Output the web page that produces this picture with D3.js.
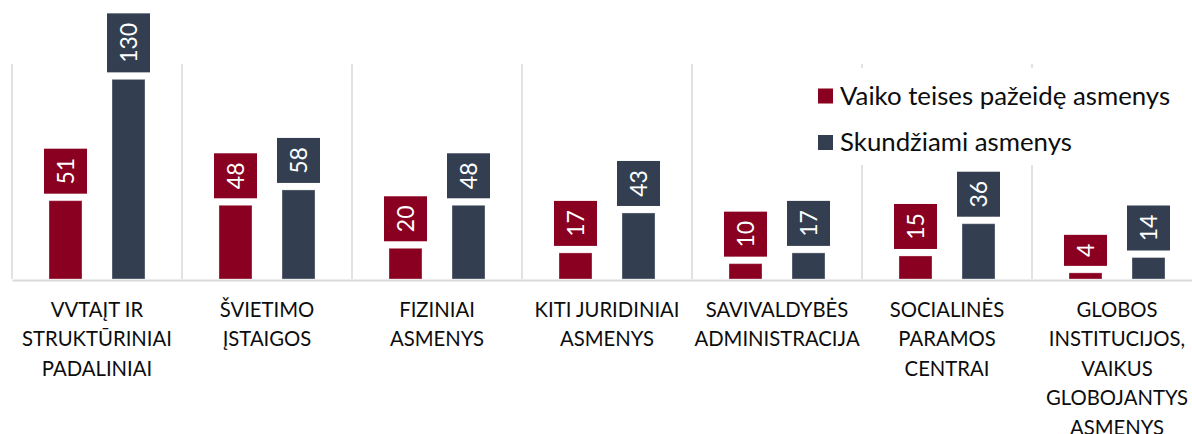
<!DOCTYPE html>
<html>
<head>
<meta charset="utf-8">
<script src="https://cdn.jsdelivr.net/npm/d3@7"></script>
<style>
  html, body { margin: 0; padding: 0; background: #fff; }
  svg { display: block; }
  text { font-family: Lato, "Noto Sans", sans-serif; }
</style>
</head>
<body>
<svg id="chart" width="1192" height="434"></svg>
<script>
// ---- data ----
const categories = [
  "VVTAĮT IR\nSTRUKTŪRINIAI\nPADALINIAI",
  "ŠVIETIMO\nĮSTAIGOS",
  "FIZINIAI\nASMENYS",
  "KITI JURIDINIAI\nASMENYS",
  "SAVIVALDYBĖS\nADMINISTRACIJA",
  "SOCIALINĖS\nPARAMOS\nCENTRAI",
  "GLOBOS\nINSTITUCIJOS,\nVAIKUS\nGLOBOJANTYS\nASMENYS"
];
const seriesNames = ["Vaiko teises pažeidę asmenys", "Skundžiami asmenys"];
const violators = [51, 48, 20, 17, 10, 15, 4];
const complained = [130, 58, 48, 43, 17, 36, 14];
const seriesColors = ["#8a0020", "#333f50"];

// ---- layout ----
const svg = d3.select("#chart");
const baseY = 279, topY = 64;
const x0 = d3.scaleBand().domain(categories.map((d, i) => i)).range([12, 1202]).paddingInner(0).paddingOuter(0);
const x1 = d3.scaleBand().domain([0, 1]).range([0, x0.bandwidth()]).paddingInner(0.476).paddingOuter(0.587);
const y = d3.scaleLinear().domain([0, 140]).range([baseY, topY]);

const seriesData = [violators, complained];

// vertical gridlines (category separators)
const gridX = d3.range(categories.length + 1).map(i => 12 + i * x0.step());
svg.append("g").selectAll("line").data(gridX).join("line")
  .attr("x1", d => d).attr("x2", d => d)
  .attr("y1", topY).attr("y2", baseY)
  .attr("stroke", "#d9d9d9").attr("stroke-width", 1.5);

// bars
const groups = svg.append("g").selectAll("g").data(categories).join("g")
  .attr("transform", (d, i) => `translate(${x0(i)},0)`);

const boxH = v => 17 + 14 * String(v).length;

seriesData.forEach((vals, s) => {
  groups.append("rect")
    .attr("x", x1(s))
    .attr("width", x1.bandwidth())
    .attr("y", (d, i) => y(vals[i]))
    .attr("height", (d, i) => baseY - y(vals[i]))
    .attr("fill", seriesColors[s])
    .attr("stroke", "rgba(255,255,255,0.35)")
    .attr("stroke-width", 1);

  // value label boxes
  const lbl = groups.append("g")
    .attr("transform", (d, i) => {
      const h = boxH(vals[i]);
      const cy = y(vals[i]) - 7 - h / 2;
      return `translate(${x1(s) + x1.bandwidth() / 2},${cy})`;
    });
  lbl.append("rect")
    .attr("x", -21.5).attr("width", 43)
    .attr("y", (d, i) => -boxH(vals[i]) / 2)
    .attr("height", (d, i) => boxH(vals[i]))
    .attr("fill", seriesColors[s]);
  lbl.append("text")
    .attr("transform", "rotate(-90)")
    .attr("text-anchor", "middle")
    .attr("dy", "0.36em")
    .attr("fill", "#fff")
    .attr("font-size", 23)
    .text((d, i) => vals[i]);
});

// baseline axis
const xAxis = d3.axisBottom(x0).tickSize(0).tickFormat("");
const axisG = svg.append("g").attr("transform", `translate(0,${baseY + 1})`).call(xAxis);
axisG.select(".domain").attr("stroke", "#d9d9d9").attr("stroke-width", 2);

// category labels
const labG = svg.append("g").selectAll("text").data(categories).join("text")
  .attr("text-anchor", "middle")
  .attr("font-size", 20.3)
  .attr("fill", "#0d0d0d")
  .attr("transform", (d, i) => `translate(${x0(i) + x0.bandwidth() / 2},317)`);
labG.each(function(d) {
  const t = d3.select(this);
  d.split("\n").forEach((line, k) => {
    t.append("tspan").attr("x", 0).attr("y", k * 29.4).text(line);
  });
});

// legend
const leg = svg.append("g");
leg.append("rect").attr("x", 808).attr("y", 68).attr("width", 384).attr("height", 97).attr("fill", "#fff");
seriesNames.forEach((name, s) => {
  const gy = 96 + s * 46.5;
  leg.append("rect").attr("x", 818).attr("y", gy - 7.5).attr("width", 15).attr("height", 15)
    .attr("fill", seriesColors[s]);
  leg.append("text").attr("x", 840).attr("y", gy + 8.5)
    .attr("font-size", 25.8).attr("fill", "#0d0d0d").text(name);
});
</script>
</body>
</html>
